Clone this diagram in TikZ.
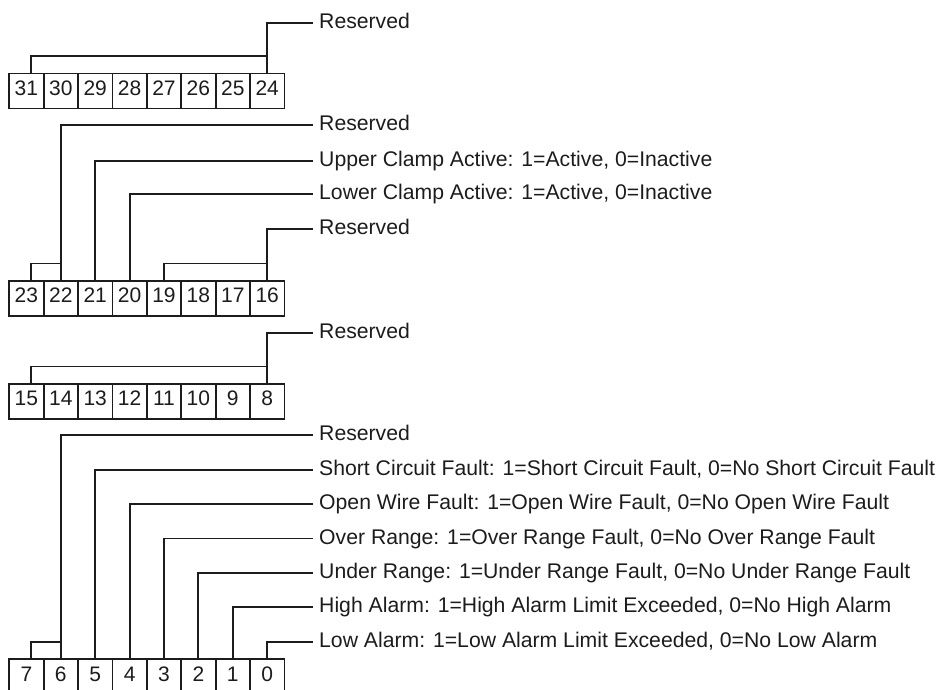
\documentclass[tikz,border=0pt]{standalone}
\usepackage{fontspec}
\setmainfont{Liberation Sans}
\definecolor{bitink}{HTML}{1C1C1C}
\tikzset{
  bitBox/.style={draw=bitink, line width=1.8pt, minimum width=34.4pt, inner sep=0pt, text height=22pt, text depth=13pt, anchor=north west, font=\fontsize{21}{25}\selectfont, text=bitink},
  bitLine/.style={draw=bitink, line width=1.9pt},
  bitLabel/.style={anchor=west, inner xsep=6pt, inner ysep=0pt, text height=16.8pt, text depth=5.5pt, font=\fontsize{21.2}{25}\selectfont, text=bitink}
}
\begin{document}
\begin{tikzpicture}[x=1pt,y=-1pt]
  \path[use as bounding box, clip] (0,0) rectangle (939,690);
  % four bytes of status bits
  \foreach \row/\top in {0/72.7,1/280,2/383,3/658.3} {
    \foreach \i in {0,...,7} {
      \pgfmathtruncatemacro\bit{8*(3-\row)+7-\i}
      \node[bitBox] (b\bit) at ({8.3+34.4*\i},\top) {\bit};
    }
  }
  \foreach \bit/\y/\txt in {24/22.7/Reserved, 22/125/Reserved,
      21/160.7/{Upper Clamp Active: 1=Active, 0=Inactive},
      20/194.3/{Lower Clamp Active: 1=Active, 0=Inactive},
      16/229/Reserved, 8/332.7/Reserved, 6/435.3/Reserved,
      5/469.7/{Short Circuit Fault: 1=Short Circuit Fault, 0=No Short Circuit Fault},
      4/504.1/{Open Wire Fault: 1=Open Wire Fault, 0=No Open Wire Fault},
      3/538.5/{Over Range: 1=Over Range Fault, 0=No Over Range Fault},
      2/572.9/{Under Range: 1=Under Range Fault, 0=No Under Range Fault},
      1/607.3/{High Alarm: 1=High Alarm Limit Exceeded, 0=No High Alarm},
      0/641.7/{Low Alarm: 1=Low Alarm Limit Exceeded, 0=No Low Alarm}} {
    \node[bitLabel] (l\bit) at (313,\y) {\txt};
    \draw[bitLine] (b\bit.north) |- (l\bit.west);
  }
  % brackets joining reserved bits
  \foreach \from/\to/\dx in {31/24/4.5, 23/22/4.5, 19/16/0, 15/8/4.5, 7/6/4.5}
    \draw[bitLine] ([xshift=\dx pt]b\from.north) |- ([yshift=16.5pt]b\to.north);
\end{tikzpicture}
\end{document}
